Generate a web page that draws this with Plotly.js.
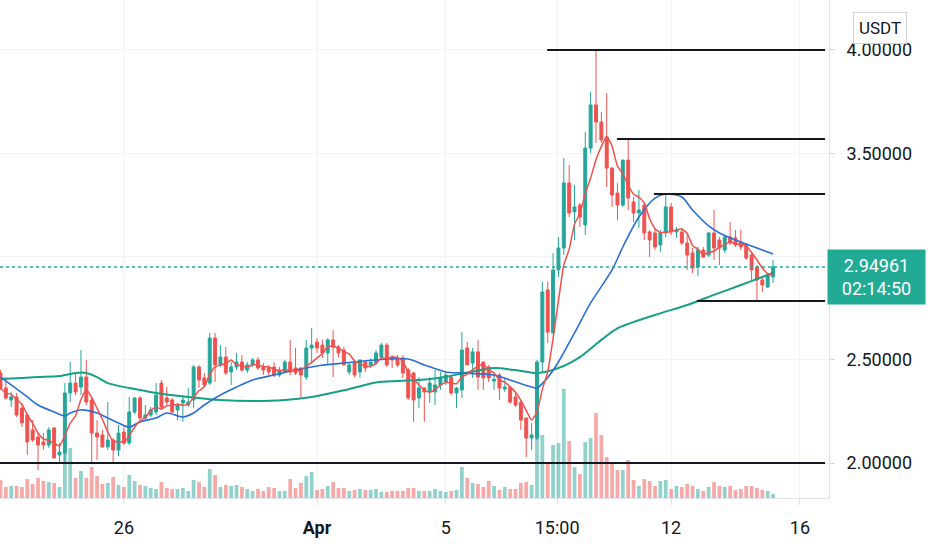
<!DOCTYPE html>
<html><head><meta charset="utf-8">
<script src="https://cdn.plot.ly/plotly-3.0.1.min.js"></script>
<style>html,body{margin:0;padding:0;background:#fff;}#chart{width:932px;height:550px;}</style>
</head><body><div id="chart"></div>
<script>
// 4-hour candles, first candle 2021-03-22 04:00
const START = Date.UTC(2021, 2, 22, 4, 0);
const STEP_HOURS = 4;

const openP = [2.436,2.363,2.305,2.320,2.266,2.232,2.160,2.126,2.102,2.087,
2.169,2.039,2.048,2.339,2.387,2.368,2.416,2.305,2.145,2.136,
2.078,2.111,2.063,2.150,2.097,2.247,2.315,2.218,2.232,2.247,
2.387,2.315,2.305,2.257,2.291,2.281,2.305,2.465,2.412,2.387,
2.605,2.475,2.513,2.441,2.465,2.489,2.450,2.475,2.499,2.465,
2.460,2.465,2.426,2.441,2.489,2.460,2.460,2.416,2.557,2.586,
2.571,2.533,2.596,2.562,2.547,2.441,2.489,2.441,2.489,2.475,
2.484,2.513,2.571,2.513,2.508,2.508,2.450,2.436,2.315,2.363,
2.344,2.344,2.378,2.392,2.416,2.339,2.354,2.557,2.484,2.538,
2.489,2.465,2.397,2.426,2.358,2.368,2.320,2.295,2.218,2.121,
2.121,2.489,2.838,2.630,2.935,3.041,3.356,3.216,3.249,3.153,
3.525,3.734,3.651,3.579,3.428,3.307,3.249,3.467,3.264,3.211,
3.249,3.119,3.114,3.056,3.114,3.240,3.119,3.119,3.065,3.017,
2.949,3.031,3.007,3.114,3.080,3.031,3.094,3.090,3.070,3.056,
3.007,2.949,2.886,2.852,2.901];

const highP = [2.450,2.416,2.344,2.339,2.281,2.242,2.208,2.145,2.145,2.174,
2.174,2.097,2.387,2.489,2.436,2.547,2.499,2.315,2.208,2.160,
2.295,2.121,2.184,2.184,2.320,2.320,2.324,2.281,2.271,2.387,
2.402,2.368,2.315,2.291,2.329,2.363,2.475,2.475,2.436,2.630,
2.630,2.571,2.562,2.489,2.533,2.523,2.489,2.508,2.513,2.484,
2.475,2.489,2.465,2.499,2.596,2.557,2.465,2.596,2.654,2.605,
2.596,2.605,2.644,2.571,2.562,2.489,2.499,2.499,2.499,2.508,
2.547,2.581,2.581,2.523,2.523,2.523,2.460,2.441,2.416,2.368,
2.416,2.450,2.441,2.441,2.426,2.368,2.634,2.586,2.557,2.596,
2.489,2.475,2.426,2.436,2.412,2.368,2.344,2.305,2.218,2.194,
2.499,2.877,2.877,3.017,3.094,3.477,3.443,3.346,3.259,3.603,
3.797,4.000,3.700,3.792,3.433,3.356,3.467,3.564,3.288,3.322,
3.259,3.128,3.138,3.128,3.307,3.259,3.143,3.138,3.114,3.041,
3.046,3.046,3.119,3.225,3.094,3.104,3.167,3.128,3.128,3.065,
3.022,2.959,2.896,2.920,2.983];

const lowP = [2.354,2.305,2.271,2.223,2.174,2.039,2.102,1.966,2.063,2.073,
2.024,2.005,2.000,2.295,2.329,2.329,2.281,2.000,2.015,2.073,
2.063,2.005,2.034,2.087,2.087,2.237,2.208,2.208,2.223,2.232,
2.257,2.281,2.242,2.208,2.199,2.271,2.266,2.363,2.368,2.378,
2.392,2.465,2.426,2.378,2.450,2.441,2.436,2.465,2.450,2.426,
2.426,2.416,2.416,2.436,2.426,2.426,2.315,2.402,2.484,2.533,
2.508,2.475,2.416,2.513,2.475,2.426,2.416,2.412,2.441,2.460,
2.475,2.499,2.465,2.460,2.465,2.412,2.305,2.199,2.266,2.199,
2.291,2.281,2.354,2.378,2.329,2.266,2.315,2.475,2.412,2.354,
2.354,2.392,2.354,2.305,2.344,2.286,2.271,2.160,2.029,2.063,
2.111,2.436,2.581,2.630,2.901,3.007,3.191,3.080,3.143,3.104,
3.501,3.550,3.550,3.336,3.240,3.177,3.240,3.225,3.167,3.138,
3.080,2.998,3.031,3.022,3.094,3.104,3.090,3.056,2.935,2.920,
2.905,2.993,2.998,2.983,2.959,3.017,3.056,3.046,3.031,2.983,
2.886,2.780,2.828,2.847,2.872];

const closeP = [2.363,2.315,2.320,2.232,2.194,2.102,2.111,2.087,2.087,2.160,
2.024,2.053,2.339,2.387,2.344,2.416,2.295,2.145,2.126,2.078,
2.111,2.063,2.145,2.097,2.247,2.315,2.218,2.232,2.257,2.329,
2.271,2.295,2.247,2.281,2.305,2.295,2.465,2.402,2.378,2.605,
2.475,2.513,2.436,2.465,2.489,2.450,2.475,2.499,2.460,2.450,
2.441,2.426,2.450,2.489,2.441,2.436,2.426,2.557,2.571,2.557,
2.533,2.596,2.562,2.533,2.475,2.475,2.426,2.499,2.460,2.489,
2.533,2.571,2.475,2.499,2.475,2.436,2.315,2.305,2.363,2.344,
2.387,2.378,2.412,2.426,2.339,2.363,2.547,2.475,2.538,2.416,
2.412,2.412,2.405,2.363,2.368,2.295,2.281,2.208,2.121,2.136,
2.489,2.828,2.634,2.935,3.041,3.356,3.211,3.240,3.191,3.525,
3.734,3.651,3.564,3.428,3.298,3.249,3.467,3.283,3.211,3.225,
3.114,3.080,3.046,3.114,3.240,3.119,3.128,3.065,3.007,2.944,
3.031,2.998,3.114,3.041,3.041,3.094,3.065,3.056,3.046,2.993,
2.935,2.886,2.862,2.910,2.94961];

const volume = [18,11,12,12,11,19,14,20,17,16,
15,11,45,50,20,27,20,31,22,14,
15,21,13,11,23,17,13,12,10,9,
16,10,9,9,10,7,18,16,11,29,
23,11,13,12,13,11,9,7,9,7,
11,10,7,7,19,10,15,22,26,8,
9,12,16,10,10,7,8,9,8,8,
9,6,6,7,7,7,10,10,7,7,
7,9,7,6,7,8,31,20,15,14,
11,17,12,8,11,9,9,15,16,13,
63,63,35,53,55,109,57,31,24,56,
60,85,63,41,34,28,28,38,18,12,
19,17,12,17,18,9,12,11,14,12,
9,7,11,16,12,11,12,8,9,12,
12,10,8,7,4];

// moving averages (candle index, price)
const maMidIdx = [0,2,5,7,10,12,13,15,18,20,22,24,26,29,31,34,36,38,41,44,47,51,55,59,64,70,76,79,83,86,92,95,99,100,102,104,107,110,114,116,119,122,124,127,129,132,134,137,140,144];
const maMidVal = [2.416,2.378,2.320,2.281,2.247,2.228,2.242,2.257,2.242,2.218,2.194,2.174,2.199,2.218,2.242,2.223,2.242,2.281,2.329,2.368,2.402,2.426,2.450,2.470,2.484,2.499,2.504,2.475,2.441,2.436,2.426,2.402,2.368,2.363,2.414,2.489,2.630,2.775,2.935,3.046,3.191,3.283,3.303,3.288,3.225,3.148,3.114,3.080,3.051,3.012];
const maLongIdx = [0,4,7,11,14,16,18,20,24,27,29,35,41,47,53,58,64,70,74,79,83,87,92,97,100,104,108,112,115,122,128,133,138,142,144];
const maLongVal = [2.407,2.412,2.416,2.421,2.436,2.436,2.416,2.387,2.363,2.349,2.339,2.320,2.305,2.300,2.305,2.320,2.352,2.390,2.397,2.404,2.418,2.438,2.460,2.446,2.436,2.460,2.513,2.596,2.652,2.717,2.765,2.814,2.862,2.901,2.920];
const SHORT_PERIOD = 5;

// horizontal drawn levels
const levelPrice = [4.0, 3.569, 3.303, 2.7845, 2.0];
const levelStartIdx = [101.9, 114.9, 121.8, 129.8, -0.2];
const levelEndIdx = 153.7;

const xTickVals = ['2021-03-26','2021-04-01','2021-04-05','2021-04-08 11:00','2021-04-12','2021-04-16'];
const xTickText = ['26','<b>Apr</b>','5','15:00','12','16'];
const yTickVals = [2.0, 2.5, 3.0, 3.5, 4.0];
const yTickText = ['2.00000','2.50000','3.00000','3.50000','4.00000'];

function tAt(i){
  const d = new Date(START + i * STEP_HOURS * 3600 * 1000);
  return d.toISOString().slice(0, 23).replace('T', ' ');
}
const times = openP.map((_, i) => tAt(i));
const UP = '#26a69a', DOWN = '#ef5350';
const volColors = closeP.map((c, i) => c >= openP[i] ? 'rgba(38,166,154,0.5)' : 'rgba(239,83,80,0.5)');

const maShort = closeP.map((_, i) => {
  const s = Math.max(0, i - SHORT_PERIOD + 1);
  const w = closeP.slice(s, i + 1);
  return w.reduce((a, b) => a + b, 0) / w.length;
});
const lastPrice = closeP[closeP.length - 1];

const traces = [
  {type:'bar', x:times, y:volume, yaxis:'y2', marker:{color:volColors, line:{width:0}}, hoverinfo:'skip'},
  {type:'candlestick', x:times, open:openP, high:highP, low:lowP, close:closeP,
    increasing:{line:{color:UP, width:1}, fillcolor:UP},
    decreasing:{line:{color:DOWN, width:1}, fillcolor:DOWN},
    whiskerwidth:0, hoverinfo:'skip'},
  {type:'scatter', mode:'lines', x:maLongIdx.map(tAt), y:maLongVal, line:{color:'#17a086', width:2, shape:'spline', smoothing:0.8}, hoverinfo:'skip'},
  {type:'scatter', mode:'lines', x:maMidIdx.map(tAt), y:maMidVal, line:{color:'#2b6fd6', width:1.6, shape:'spline', smoothing:0.8}, hoverinfo:'skip'},
  {type:'scatter', mode:'lines', x:times, y:maShort, line:{color:'#f0504d', width:1.5, shape:'spline', smoothing:0.5}, hoverinfo:'skip'}
];

const shapes = levelPrice.map((p, k) => ({
  type:'line', xref:'x', yref:'y', x0:tAt(levelStartIdx[k]), x1:tAt(levelEndIdx), y0:p, y1:p,
  line:{color:'#131722', width:2}
}));
shapes.push({type:'line', xref:'paper', yref:'y', x0:0, x1:1, y0:lastPrice, y1:lastPrice,
  line:{color:UP, width:1.5, dash:'dot'}});

const layout = {
  width:932, height:550,
  margin:{l:0, r:103, t:0, b:52, pad:0},
  paper_bgcolor:'#ffffff', plot_bgcolor:'#ffffff',
  showlegend:false,
  font:{family:'Roboto, sans-serif', color:'#131722', size:18},
  bargap:0.3,
  boxgap:0.22,
  xaxis:{type:'date', range:[tAt(-0.09), tAt(154.43)], rangeslider:{visible:false},
    tickmode:'array', tickvals:xTickVals, ticktext:xTickText,
    showgrid:true, gridcolor:'#f0f3fa', gridwidth:1, zeroline:false,
    showline:true, linecolor:'#e0e3eb', ticks:'outside', ticklen:6, tickcolor:'#e0e3eb',
    tickfont:{size:18, color:'#131722'}, ticklabelstandoff:7},
  yaxis:{side:'right', range:[1.8305, 4.2421], tickmode:'array', tickvals:yTickVals, ticktext:yTickText,
    showgrid:true, gridcolor:'#f0f3fa', zeroline:false,
    showline:true, linecolor:'#e0e3eb', ticks:'outside', ticklen:5, tickcolor:'#d1d4dc',
    tickfont:{size:18, color:'#131722'}, ticklabelstandoff:8},
  yaxis2:{overlaying:'y', range:[0, Math.max(...volume) / 0.219], visible:false, fixedrange:true},
  shapes:shapes,
  annotations:[
    {xref:'paper', yref:'paper', x:876.5/829, y:1 - 277/498, xanchor:'center', yanchor:'middle',
     text:lastPrice.toFixed(5) + '<br>02:14:50', showarrow:false, align:'center',
     font:{color:'#ffffff', size:18, family:'Roboto, sans-serif'},
     bgcolor:'#22ab94', borderpad:0, width:97, height:54},
    {xref:'paper', yref:'paper', x:880/829, y:1 - 28/498, xanchor:'center', yanchor:'middle',
     text:'USDT', showarrow:false, font:{color:'#131722', size:17, family:'Roboto, sans-serif'},
     bgcolor:'#ffffff', bordercolor:'#d1d4dc', borderwidth:1, borderpad:5}
  ]
};

Plotly.newPlot('chart', traces, layout, {staticPlot:true, displayModeBar:false});
</script>
</body></html>
